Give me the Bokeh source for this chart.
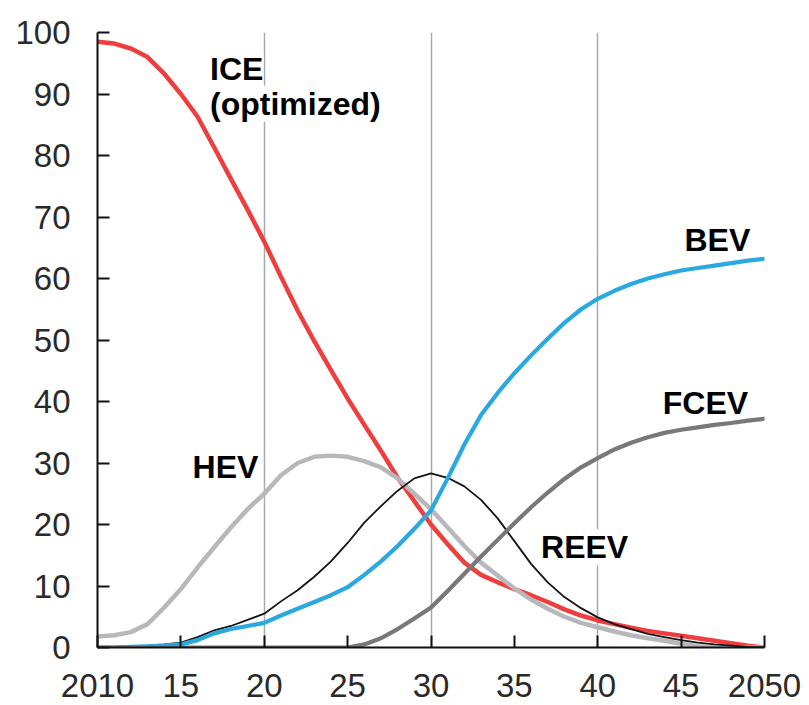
from bokeh.plotting import figure
from bokeh.models import Range1d, FixedTicker, Label
from bokeh.embed import file_html
from bokeh.resources import INLINE

years = list(range(2010, 2051))

ice = [98.5, 98.2, 97.4, 96.0, 93.3, 90.0, 86.3, 81.3, 76.2, 71.2,
       66.0, 60.3, 54.8, 49.8, 45.1, 40.5, 36.2, 32.0, 27.6, 23.8,
       20.0, 16.8, 13.8, 11.8, 10.6, 9.5, 8.5, 7.4, 6.2, 5.2,
       4.4, 3.8, 3.2, 2.7, 2.3, 1.9, 1.5, 1.1, 0.7, 0.3, 0.0]
hev = [1.8, 2.0, 2.5, 3.8, 6.5, 9.5, 13.0, 16.3, 19.5, 22.5,
       25.0, 28.0, 30.0, 31.0, 31.2, 31.0, 30.3, 29.3, 27.5, 25.0,
       22.5, 19.5, 16.5, 13.8, 11.7, 9.6, 7.8, 6.3, 5.0, 4.0,
       3.3, 2.6, 2.0, 1.5, 1.1, 0.6, 0.2, 0.0, 0.0, 0.0, 0.0]
reev = [0.0, 0.1, 0.2, 0.3, 0.5, 0.8, 1.7, 2.8, 3.5, 4.5,
        5.5, 7.5, 9.3, 11.5, 14.0, 17.0, 20.3, 23.0, 25.5, 27.5,
        28.3, 27.6, 26.2, 24.0, 21.0, 17.3, 13.6, 10.6, 8.2, 6.4,
        4.9, 3.8, 3.0, 2.2, 1.7, 1.2, 0.8, 0.5, 0.3, 0.1, 0.0]
bev = [0.0, 0.0, 0.1, 0.2, 0.3, 0.5, 1.2, 2.3, 3.0, 3.5,
       4.0, 5.2, 6.3, 7.4, 8.5, 9.8, 11.8, 14.0, 16.5, 19.3,
       22.3, 27.5, 33.0, 37.8, 41.4, 44.6, 47.5, 50.2, 52.8, 55.0,
       56.7, 58.0, 59.1, 60.0, 60.7, 61.3, 61.7, 62.1, 62.5, 62.9, 63.2]
fcev = [0.0] * 16 + [0.5, 1.5, 3.0, 4.7,
        6.5, 9.2, 12.0, 14.8, 17.5, 20.2, 22.8, 25.2, 27.4, 29.3,
        30.8, 32.2, 33.3, 34.2, 34.9, 35.4, 35.8, 36.2, 36.5, 36.9, 37.2]

x_ticks = [2010, 2015, 2020, 2025, 2030, 2035, 2040, 2045, 2050]
x_tick_labels = ["2010", "15", "20", "25", "30", "35", "40", "45", "2050"]
y_ticks = [0, 10, 20, 30, 40, 50, 60, 70, 80, 90, 100]
grid_years = [2020, 2030, 2040, 2050]

p = figure(width=809, height=705, output_backend="svg", toolbar_location=None,
           x_range=Range1d(2010, 2050), y_range=Range1d(0, 100),
           min_border_left=97, min_border_right=45, min_border_top=32,
           min_border_bottom=58)
p.outline_line_color = None
p.background_fill_color = "white"
p.border_fill_color = "white"

p.xgrid.ticker = FixedTicker(ticks=grid_years)
p.xgrid.grid_line_color = "#a9a9b0"
p.xgrid.grid_line_width = 1.5
p.ygrid.grid_line_color = None

FONT = "Liberation Sans"

p.xaxis.ticker = FixedTicker(ticks=x_ticks)
p.xaxis.major_label_overrides = {t: l for t, l in zip(x_ticks, x_tick_labels)}
p.yaxis.ticker = FixedTicker(ticks=y_ticks)
for ax in (p.xaxis[0], p.yaxis[0]):
    ax.axis_line_color = "#111111"
    ax.axis_line_width = 2
    ax.major_tick_line_color = "#111111"
    ax.major_tick_line_width = 2
    ax.major_tick_in = 12
    ax.major_tick_out = 0
    ax.minor_tick_line_color = None
    ax.major_label_text_font = FONT
    ax.major_label_text_font_size = "33px"
    ax.major_label_text_color = "#2a2a2a"
p.xaxis.major_label_standoff = 26
p.yaxis.major_label_standoff = 27


def add_label(x, y, text, bg=False):
    lab = Label(x=x, y=y, text=text, text_font=FONT, text_font_size="32px",
                text_font_style="bold", text_color="#000000",
                text_baseline="middle", text_align="left")
    if bg:
        lab.background_fill_color = "white"
    p.add_layout(lab)

kw = dict(line_join="round", line_cap="round")
p.line(years, ice, line_color="#ef3e3e", line_width=4.5, **kw)
p.line(years, hev, line_color="#b8b8bc", line_width=4.5, **kw)
p.line(years, reev, line_color="#151515", line_width=1.8, **kw)
p.line(years, bev, line_color="#2aa8e0", line_width=4.2, **kw)
p.line(years, fcev, line_color="#78787c", line_width=4.2, **kw)

add_label(2016.75, 94.0, "ICE", bg=True)
add_label(2016.75, 88.4, "(optimized)", bg=True)
add_label(2045.2, 66.2, "BEV")
add_label(2015.7, 29.3, "HEV")
add_label(2043.9, 39.8, "FCEV")
add_label(2036.6, 16.3, "REEV", bg=True)

open("out.html", "w").write(file_html(p, INLINE))
